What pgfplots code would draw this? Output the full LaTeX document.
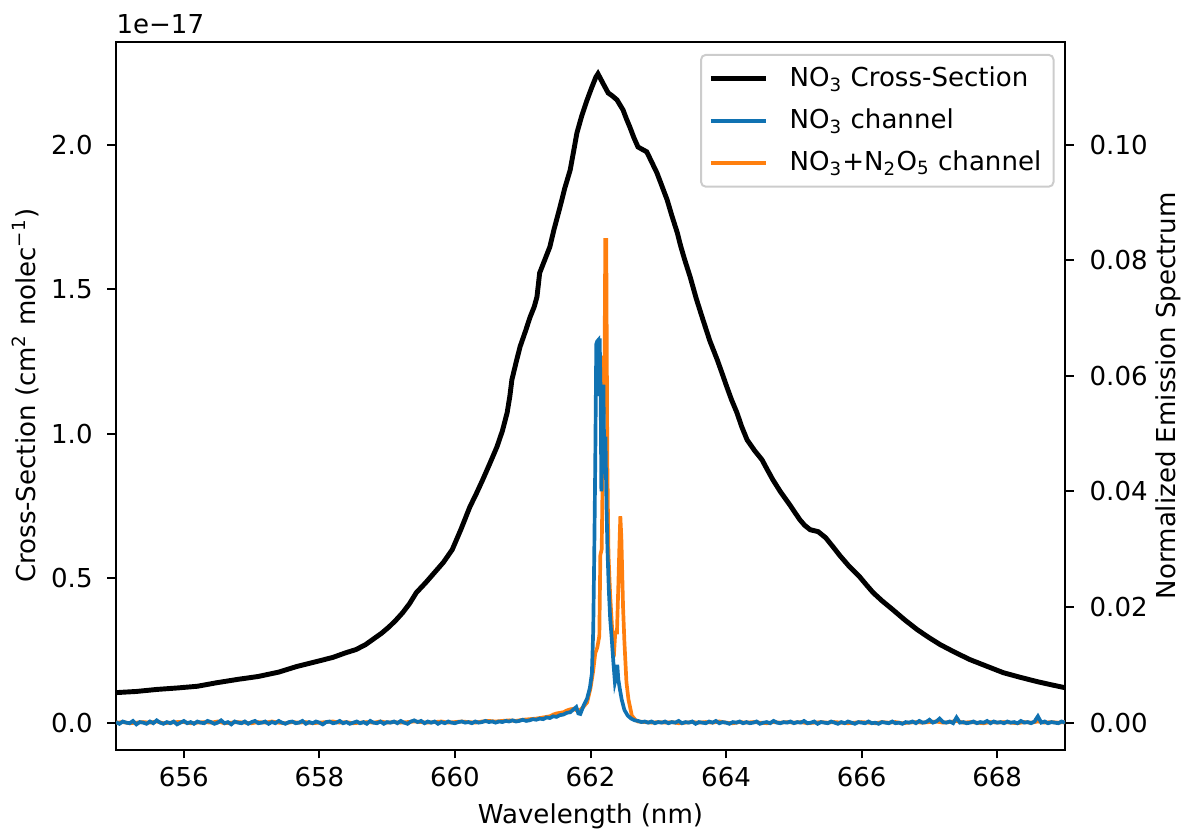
\documentclass[border=0pt]{standalone}
\usepackage{fontspec}
\setmainfont{DejaVu Sans}
\usepackage{pgfplots}
\pgfplotsset{compat=1.18}
\definecolor{chblue}{RGB}{16,114,178}
\definecolor{chorange}{RGB}{255,127,14}
\newcommand{\fsz}{\fontsize{10.6}{12.7}\selectfont}

\begin{document}
\begin{tikzpicture}
\pgfplotsset{
  every axis/.append style={
    width=386pt, height=288pt, scale only axis,
    xmin=655, xmax=669,
    tick align=outside,
    major tick length=3.5pt,
    axis line style={line width=0.8pt},
    every tick/.style={black, line width=0.8pt},
    tick label style={font=\fsz},
    label style={font=\fsz},
    /pgf/number format/assume math mode=true,
  }
}
% left axis: cross-section (units of 1e-17)
\begin{axis}[
  name=main,
  ymin=-0.094, ymax=2.357,
  xtick={656,658,...,668},
  xtick pos=bottom, ytick pos=left,
  ytick={0,0.5,1,1.5,2},
  yticklabel style={xshift=-2.5pt, /pgf/number format/.cd, fixed, fixed zerofill, precision=1},
  xticklabel style={/pgf/number format/.cd, fixed, precision=0, 1000 sep={}},
  xlabel={Wavelength (nm)},
  ylabel={Cross-Section (cm\textsuperscript{2} molec\textsuperscript{−1})},
  ylabel style={yshift=-2pt},
]
\addplot[black, line width=2pt] coordinates {
(655.00,0.104) (655.30,0.108) (655.60,0.115) (655.90,0.120) (656.20,0.126)
(656.48,0.138) (656.80,0.150) (657.10,0.160) (657.40,0.175) (657.66,0.194)
(657.95,0.211) (658.20,0.226) (658.39,0.242) (658.54,0.253) (658.68,0.270)
(658.80,0.290) (658.92,0.310) (659.03,0.332) (659.13,0.355) (659.23,0.381)
(659.33,0.412) (659.43,0.450) (659.57,0.485) (659.70,0.520) (659.83,0.555)
(659.96,0.599) (660.09,0.670) (660.22,0.747) (660.31,0.790) (660.41,0.841)
(660.52,0.900) (660.62,0.955) (660.70,1.010) (660.77,1.073) (660.81,1.130)
(660.84,1.187) (660.90,1.245) (660.96,1.301) (661.04,1.355) (661.11,1.405)
(661.17,1.440) (661.21,1.474) (661.25,1.557) (661.33,1.605) (661.40,1.647)
(661.46,1.706) (661.55,1.785) (661.62,1.850) (661.70,1.913) (661.76,1.990)
(661.80,2.042) (661.87,2.100) (661.95,2.156) (662.02,2.200) (662.08,2.235)
(662.11,2.246) (662.18,2.215) (662.26,2.180) (662.32,2.170) (662.39,2.156)
(662.48,2.121) (662.53,2.090) (662.58,2.062) (662.64,2.025) (662.70,1.993)
(662.76,1.985) (662.83,1.976) (662.90,1.942) (662.98,1.903) (663.05,1.860)
(663.13,1.810) (663.20,1.755) (663.28,1.696) (663.33,1.650) (663.39,1.602)
(663.47,1.543) (663.56,1.468) (663.66,1.394) (663.76,1.322) (663.87,1.256)
(663.94,1.210) (664.01,1.163) (664.08,1.118) (664.16,1.073) (664.23,1.025)
(664.31,0.979) (664.42,0.942) (664.53,0.910) (664.61,0.875) (664.69,0.841)
(664.80,0.800) (664.94,0.754) (665.02,0.726) (665.09,0.702) (665.16,0.683)
(665.24,0.668) (665.36,0.661) (665.47,0.640) (665.58,0.608) (665.68,0.578)
(665.82,0.540) (665.97,0.505) (666.07,0.477) (666.17,0.450) (666.30,0.422)
(666.46,0.391) (666.64,0.355) (666.82,0.322) (666.99,0.295) (667.16,0.270)
(667.38,0.243) (667.60,0.218) (667.85,0.195) (668.09,0.173) (668.34,0.157)
(668.59,0.142) (668.80,0.131) (669.00,0.121)
};
\end{axis}
\node[anchor=south west, inner sep=0pt, yshift=3pt, font=\fsz]
  at (main.north west) {1e−17};

% right axis: emission spectra
\begin{axis}[
  ymin=-0.0047, ymax=0.1178,
  axis x line=none,
  axis y line*=right,
  ytick={0,0.02,0.04,0.06,0.08,0.10},
  yticklabel style={xshift=3pt, /pgf/number format/.cd, fixed, fixed zerofill, precision=2},
  ylabel={Normalized Emission Spectrum},
  ylabel style={yshift=3.6pt},
  legend style={at={(rel axis cs:0.989,0.983)}, anchor=north east,
    draw=black!20, rounded corners=2pt, line width=0.8pt,
    font=\fsz, row sep=3.5pt,
    inner xsep=3pt, inner ysep=3pt, cells={anchor=west}},
  legend image code/.code={\draw[#1] (0pt,0pt) -- (22.5pt,0pt); \path (29pt,0pt);},
]
\addlegendimage{black, line width=2pt}
\addlegendentry{NO\textsubscript{3} Cross-Section}
\addlegendimage{chblue, line width=1.5pt}
\addlegendentry{NO\textsubscript{3} channel}
\addlegendimage{chorange, line width=1.5pt}
\addlegendentry{NO\textsubscript{3}+N\textsubscript{2}O\textsubscript{5} channel}

% NO3+N2O5 channel
\addplot[chorange, line width=1.5pt, forget plot] coordinates {
(655.0,0.0000) (655.1,0.0001) (655.2,-0.0001) (655.3,0.0000) (655.4,0.0001)
(655.5,0.0000) (655.6,0.0002) (655.7,-0.0001) (655.8,0.0000) (655.9,0.0001)
(656.0,0.0001) (656.1,-0.0001) (656.2,0.0000) (656.3,0.0001) (656.4,0.0000)
(656.5,0.0002) (656.6,-0.0001) (656.7,0.0000) (656.8,0.0001) (656.9,0.0000)
(657.0,-0.0001) (657.1,0.0001) (657.2,0.0000) (657.3,0.0002) (657.4,0.0000)
(657.5,-0.0001) (657.6,0.0001) (657.7,0.0000) (657.8,0.0001) (657.9,-0.0001)
(658.0,0.0000) (658.1,0.0001) (658.2,0.0002) (658.3,0.0000) (658.4,0.0001)
(658.5,-0.0001) (658.6,0.0000) (658.7,0.0001) (658.8,0.0000) (658.9,0.0002)
(659.0,0.0000) (659.1,0.0001) (659.2,0.0000) (659.3,0.0001) (659.4,0.0002)
(659.5,0.0001) (659.6,0.0000) (659.7,0.0001) (659.8,0.0002) (659.9,0.0000)
(660.0,0.0001) (660.1,0.0002) (660.2,0.0001) (660.3,0.0000) (660.4,0.0002)
(660.5,0.0003) (660.6,0.0002) (660.7,0.0003) (660.8,0.0004) (660.9,0.0003)
(661.0,0.0005) (661.1,0.0006) (661.2,0.0007) (661.3,0.0009)
(661.40,0.0011) (661.45,0.0014) (661.50,0.0016) (661.55,0.0017) (661.60,0.0018)
(661.65,0.0021) (661.70,0.0023) (661.75,0.0024) (661.80,0.0021) (661.85,0.0022)
(661.90,0.0028) (661.95,0.0035) (662.00,0.0060) (662.04,0.0090) (662.07,0.0120)
(662.10,0.0130) (662.13,0.0150) (662.145,0.0290) (662.165,0.0300) (662.175,0.0390)
(662.185,0.0635) (662.195,0.0600) (662.205,0.0580) (662.218,0.0835) (662.232,0.0835)
(662.248,0.0450) (662.265,0.0290) (662.29,0.0220) (662.31,0.0180) (662.335,0.0130)
(662.35,0.0126) (662.365,0.0156) (662.39,0.0156) (662.41,0.0235) (662.425,0.0300)
(662.44,0.0357) (662.455,0.0320) (662.48,0.0200) (662.50,0.0140) (662.53,0.0070)
(662.56,0.0040) (662.61,0.0012) (662.66,0.0005)
(662.7,0.0002) (662.8,0.0001) (662.9,0.0000) (663.0,0.0001) (663.1,0.0000)
(663.2,0.0001) (663.3,-0.0001) (663.4,0.0000) (663.5,0.0001) (663.6,0.0000)
(663.7,0.0001) (663.8,0.0000) (663.9,0.0002) (664.0,0.0000) (664.1,-0.0001)
(664.2,0.0001) (664.3,0.0000) (664.4,0.0001) (664.5,0.0000) (664.6,-0.0001)
(664.7,0.0001) (664.8,0.0000) (664.9,0.0001) (665.0,0.0000) (665.1,0.0001)
(665.2,-0.0001) (665.3,0.0000) (665.4,0.0001) (665.5,0.0000) (665.6,0.0001)
(665.7,0.0000) (665.8,-0.0001) (665.9,0.0000) (666.0,0.0001) (666.1,0.0000)
(666.2,-0.0001) (666.3,0.0001) (666.4,0.0000) (666.5,0.0001) (666.6,-0.0001)
(666.7,0.0000) (666.8,0.0001) (666.9,0.0000) (667.0,0.0001) (667.1,0.0002)
(667.2,0.0000) (667.3,0.0001) (667.4,0.0003) (667.5,0.0000) (667.6,0.0001)
(667.7,0.0000) (667.8,-0.0001) (667.9,0.0001) (668.0,0.0000) (668.1,0.0001)
(668.2,0.0000) (668.3,-0.0001) (668.4,0.0001) (668.5,0.0000) (668.6,0.0002)
(668.7,0.0000) (668.8,0.0001) (668.9,0.0000) (669.0,0.0001)
};

% NO3 channel
\addplot[chblue, line width=1.5pt, forget plot] coordinates {
(655.00,0.0001) (655.05,-0.0002) (655.10,0.0002) (655.15,0.0000) (655.20,-0.0001)
(655.25,0.0003) (655.30,-0.0003) (655.35,0.0001) (655.40,0.0000) (655.45,-0.0002)
(655.50,0.0002) (655.55,-0.0001) (655.60,0.0004) (655.65,0.0000) (655.70,-0.0002)
(655.75,0.0001) (655.80,-0.0001) (655.85,0.0002) (655.90,-0.0003) (655.95,0.0000)
(656.00,0.0003) (656.05,-0.0001) (656.10,0.0001) (656.15,-0.0002) (656.20,0.0002)
(656.25,0.0000) (656.30,-0.0001) (656.35,0.0003) (656.40,0.0001) (656.45,-0.0002)
(656.50,0.0000) (656.55,0.0004) (656.60,-0.0001) (656.65,0.0001) (656.70,-0.0003)
(656.75,0.0002) (656.80,0.0000) (656.85,-0.0001) (656.90,0.0002) (656.95,-0.0002)
(657.00,0.0001) (657.05,0.0003) (657.10,-0.0001) (657.15,0.0000) (657.20,0.0002)
(657.25,-0.0002) (657.30,0.0001) (657.35,-0.0001) (657.40,0.0003) (657.45,0.0000)
(657.50,-0.0002) (657.55,0.0001) (657.60,0.0002) (657.65,-0.0001) (657.70,0.0000)
(657.75,0.0003) (657.80,-0.0002) (657.85,0.0001) (657.90,-0.0001) (657.95,0.0002)
(658.00,0.0000) (658.05,-0.0003) (658.10,0.0001) (658.15,0.0002) (658.20,-0.0001)
(658.25,0.0000) (658.30,0.0003) (658.35,-0.0001) (658.40,0.0001) (658.45,-0.0002)
(658.50,0.0000) (658.55,0.0002) (658.60,-0.0001) (658.65,0.0001) (658.70,-0.0002)
(658.75,0.0003) (658.80,0.0000) (658.85,-0.0001) (658.90,0.0002) (658.95,-0.0002)
(659.00,0.0001) (659.05,0.0000) (659.10,0.0002) (659.15,-0.0001) (659.20,0.0003)
(659.25,0.0000) (659.30,-0.0002) (659.35,0.0002) (659.40,0.0004) (659.45,0.0001)
(659.50,0.0003) (659.55,-0.0001) (659.60,0.0002) (659.65,0.0000) (659.70,0.0002)
(659.75,-0.0002) (659.80,0.0001) (659.85,-0.0001) (659.90,0.0002) (659.95,0.0000)
(660.00,-0.0001) (660.05,0.0001) (660.10,0.0002) (660.15,0.0000) (660.20,0.0001)
(660.25,-0.0001) (660.30,0.0002) (660.35,0.0000) (660.40,0.0001) (660.45,0.0003)
(660.50,0.0001) (660.55,0.0002) (660.60,0.0000) (660.65,0.0002) (660.70,0.0001)
(660.75,0.0003) (660.80,0.0002) (660.85,0.0004) (660.90,0.0002) (660.95,0.0003)
(661.00,0.0005) (661.05,0.0003) (661.10,0.0004) (661.15,0.0006) (661.20,0.0005)
(661.25,0.0007) (661.30,0.0006) (661.35,0.0009) (661.40,0.0008) (661.45,0.0011)
(661.50,0.0010) (661.55,0.0013) (661.60,0.0014) (661.65,0.0017)
(661.70,0.0018) (661.74,0.0022) (661.79,0.0027) (661.82,0.0016) (661.85,0.0015)
(661.90,0.0030) (661.95,0.0042) (661.99,0.0060) (662.02,0.0085) (662.04,0.0160)
(662.055,0.0290) (662.07,0.0450) (662.085,0.0655) (662.10,0.0660) (662.115,0.0662)
(662.125,0.0565) (662.135,0.0665) (662.15,0.0560) (662.16,0.0400) (662.175,0.0480)
(662.19,0.0585) (662.205,0.0430) (662.22,0.0495) (662.235,0.0380) (662.25,0.0300)
(662.27,0.0230) (662.29,0.0180) (662.31,0.0150) (662.34,0.0100) (662.36,0.0070)
(662.38,0.0080) (662.395,0.0100) (662.41,0.0075) (662.43,0.0060) (662.46,0.0040)
(662.50,0.0022) (662.55,0.0012) (662.60,0.0007)
(662.65,0.0004) (662.70,0.0003) (662.75,0.0001) (662.80,0.0002) (662.85,0.0000)
(662.90,0.0002) (662.95,-0.0001) (663.00,0.0001) (663.05,0.0000) (663.10,0.0002)
(663.15,-0.0001) (663.20,0.0001) (663.25,0.0000) (663.30,0.0003) (663.35,-0.0001)
(663.40,0.0001) (663.45,0.0000) (663.50,0.0002) (663.55,-0.0002) (663.60,0.0001)
(663.65,0.0000) (663.70,-0.0001) (663.75,0.0002) (663.80,0.0000) (663.85,0.0003)
(663.90,-0.0001) (663.95,0.0001) (664.00,0.0000) (664.05,-0.0002) (664.10,0.0001)
(664.15,0.0000) (664.20,0.0002) (664.25,-0.0001) (664.30,0.0001) (664.35,-0.0001)
(664.40,0.0000) (664.45,0.0002) (664.50,-0.0002) (664.55,0.0000) (664.60,0.0001)
(664.65,-0.0001) (664.70,0.0003) (664.75,0.0000) (664.80,-0.0001) (664.85,0.0001)
(664.90,0.0000) (664.95,0.0002) (665.00,-0.0001) (665.05,0.0001) (665.10,0.0000)
(665.15,0.0003) (665.20,-0.0001) (665.25,0.0000) (665.30,0.0002) (665.35,-0.0002)
(665.40,0.0001) (665.45,0.0000) (665.50,-0.0001) (665.55,0.0002) (665.60,0.0000)
(665.65,-0.0002) (665.70,0.0001) (665.75,-0.0001) (665.80,0.0002) (665.85,0.0000)
(665.90,-0.0002) (665.95,0.0001) (666.00,0.0000) (666.05,-0.0001) (666.10,0.0002)
(666.15,-0.0001) (666.20,0.0000) (666.25,-0.0002) (666.30,0.0001) (666.35,0.0000)
(666.40,-0.0001) (666.45,0.0002) (666.50,-0.0001) (666.55,0.0000) (666.60,-0.0002)
(666.65,0.0001) (666.70,0.0000) (666.75,0.0002) (666.80,-0.0001) (666.85,0.0003)
(666.90,0.0000) (666.95,0.0001) (667.00,0.0005) (667.05,0.0000) (667.10,0.0002)
(667.15,0.0007) (667.20,0.0001) (667.25,0.0000) (667.30,0.0002) (667.35,-0.0001)
(667.40,0.0009) (667.45,0.0000) (667.50,0.0001) (667.55,-0.0001) (667.60,0.0000)
(667.65,0.0002) (667.70,-0.0001) (667.75,0.0001) (667.80,0.0000) (667.85,0.0003)
(667.90,-0.0001) (667.95,0.0002) (668.00,0.0000) (668.05,0.0001) (668.10,-0.0001)
(668.15,0.0002) (668.20,0.0000) (668.25,0.0001) (668.30,-0.0001) (668.35,0.0003)
(668.40,0.0000) (668.45,0.0001) (668.50,-0.0001) (668.55,0.0002) (668.60,0.0011)
(668.65,0.0000) (668.70,0.0002) (668.75,-0.0001) (668.80,0.0001) (668.85,0.0000)
(668.90,-0.0001) (668.95,0.0002) (669.00,0.0000)
};
\end{axis}
% page area as in the reference (matplotlib tight bbox)
\pgfresetboundingbox
\useasboundingbox ([shift={(-47.2pt,-34.6pt)}]main.south west)
  rectangle ([shift={(47.6pt,17pt)}]main.north east);
\end{tikzpicture}
\end{document}
